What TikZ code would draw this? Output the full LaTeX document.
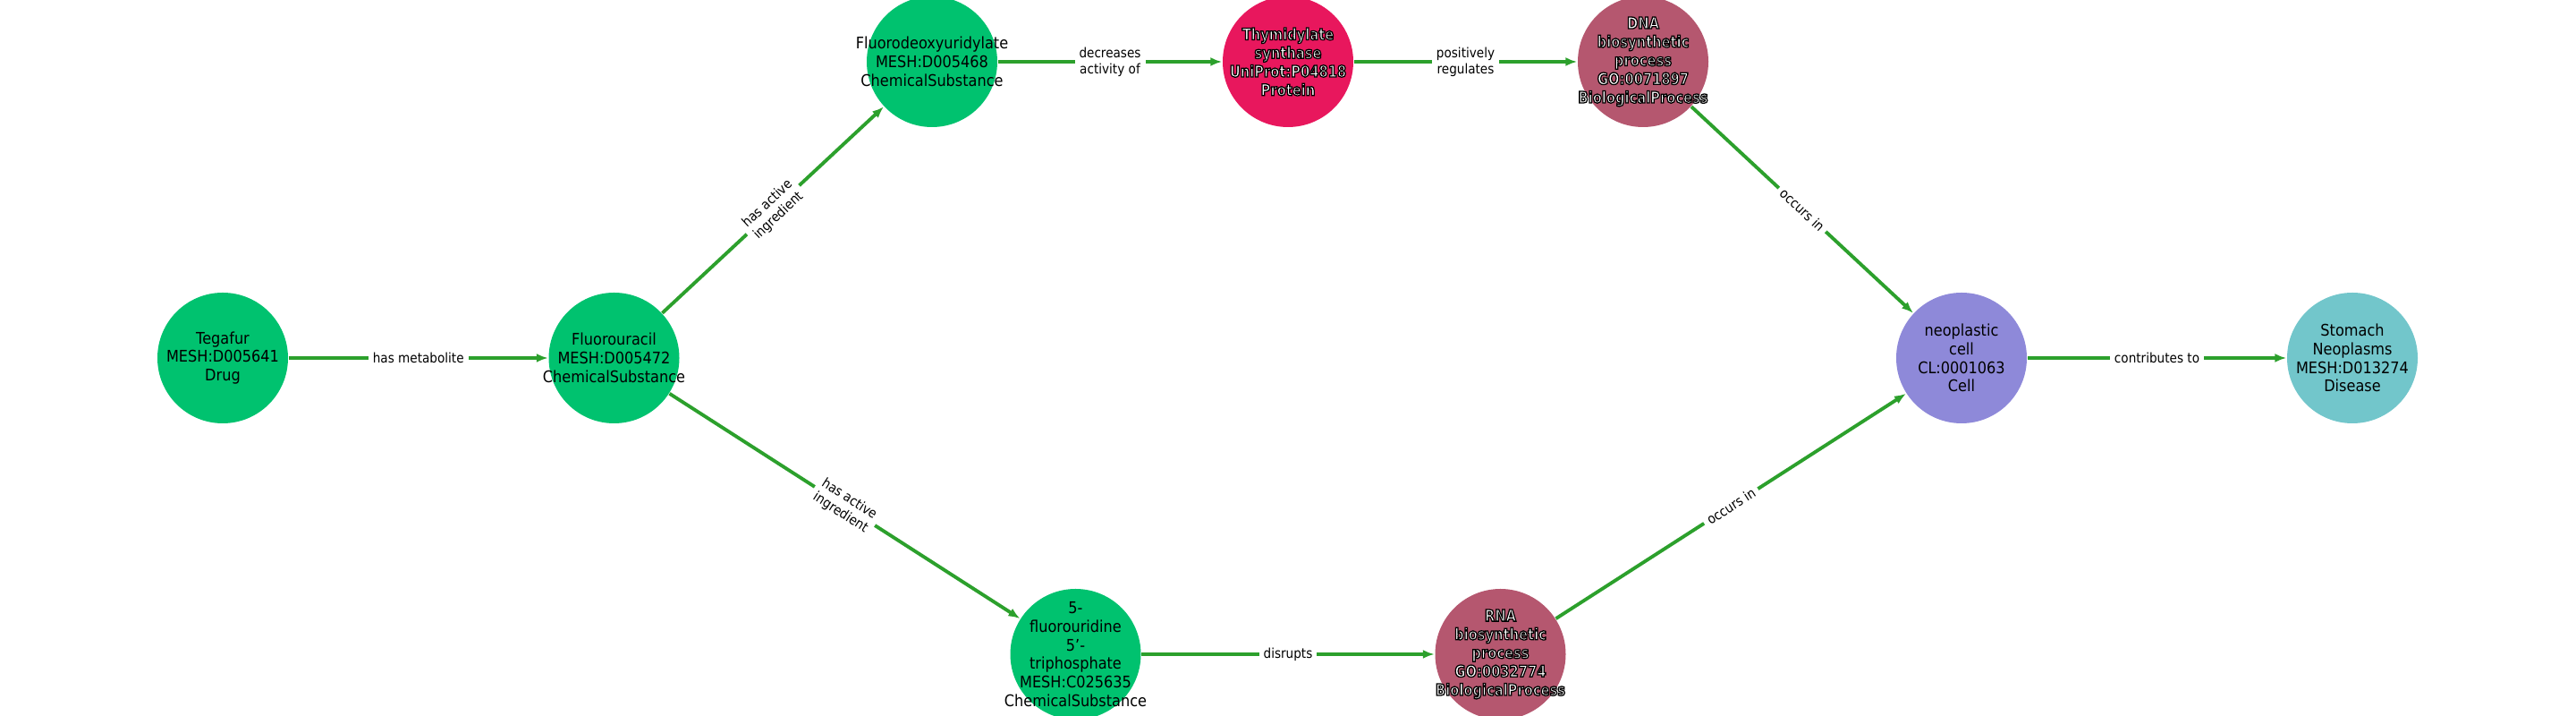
\documentclass[tikz,border=0pt]{standalone}
\usepackage{fontspec}
\setmainfont{DejaVu Sans}[FakeStretch=0.9]
\newfontfamily\outfont{DejaVu Sans}[FakeStretch=0.82]
\usepackage{tikz}
\usetikzlibrary{arrows.meta}
\definecolor{chem}{HTML}{00C26F}
\definecolor{prot}{HTML}{E8175D}
\definecolor{bproc}{HTML}{B5576F}
\definecolor{cellc}{HTML}{8E89D9}
\definecolor{disease}{HTML}{72C6CB}
\definecolor{relgreen}{HTML}{2CA02C}
\newcommand\outlined[1]{\special{pdf:literal direct q 0 0 0 RG 0.36 w 2 Tr}#1\special{pdf:literal direct Q}}
\tikzstyle{Ent}=[circle, minimum size=1.46cm, inner sep=0pt]
\tikzstyle{Txt}=[align=center, inner sep=0pt, font=\fontsize{5.1}{5.9}\selectfont]
\tikzstyle{WTxt}=[Txt, text=white, font=\outfont\bfseries\fontsize{5.1}{5.9}\selectfont]
\tikzstyle{Rel}=[draw=relgreen, line width=1.1pt, -{Latex[length=1.3mm,width=1mm]}]
\tikzstyle{RelLab}=[midway, sloped, fill=white, inner sep=0.5mm, align=center, font=\fontsize{4.3}{5.1}\selectfont]

\begin{document}
\begin{tikzpicture}
\useasboundingbox (0,0) rectangle (28.8,8);

\node[Ent, fill=chem, label={[Txt]center:Tegafur\\MESH:D005641\\Drug}] (tega) at (2.49,4) {};
\node[Ent, fill=chem, label={[Txt]center:Fluorouracil\\MESH:D005472\\ChemicalSubstance}] (fluo) at (6.865,4) {};
\node[Ent, fill=chem, label={[Txt]center:Fluorodeoxyuridylate\\MESH:D005468\\ChemicalSubstance}] (fdump) at (10.42,7.31) {};
\node[Ent, fill=prot, label={[WTxt]center:\outlined{Thymidylate\\synthase\\UniProt:P04818\\Protein}}] (tyms) at (14.40,7.31) {};
\node[Ent, fill=bproc, label={[WTxt]center:\outlined{DNA\\biosynthetic\\process\\GO:0071897\\BiologicalProcess}}] (dnabio) at (18.37,7.31) {};
\node[Ent, fill=chem, label={[Txt]center:5-\\fluorouridine\\5\symbol{39}-\\triphosphate\\MESH:C025635\\ChemicalSubstance}] (futp) at (12.025,0.69) {};
\node[Ent, fill=bproc, label={[WTxt]center:\outlined{RNA\\biosynthetic\\process\\GO:0032774\\BiologicalProcess}}] (rnabio) at (16.775,0.69) {};
\node[Ent, fill=cellc, label={[Txt]center:neoplastic\\cell\\CL:0001063\\Cell}] (neo) at (21.93,4) {};
\node[Ent, fill=disease, label={[Txt]center:Stomach\\Neoplasms\\MESH:D013274\\Disease}] (stomach) at (26.30,4) {};

\draw[Rel] (tega) -- node[RelLab] {has metabolite} (fluo);
\draw[Rel] (fluo) -- node[RelLab] {has active\\ingredient} (fdump);
\draw[Rel] (fluo) -- node[RelLab] {has active\\ingredient} (futp);
\draw[Rel] (fdump) -- node[RelLab] {decreases\\activity of} (tyms);
\draw[Rel] (tyms) -- node[RelLab] {positively\\regulates} (dnabio);
\draw[Rel] (futp) -- node[RelLab] {disrupts} (rnabio);
\draw[Rel] (dnabio) -- node[RelLab] {occurs in} (neo);
\draw[Rel] (rnabio) -- node[RelLab] {occurs in} (neo);
\draw[Rel] (neo) -- node[RelLab] {contributes to} (stomach);

\end{tikzpicture}
\end{document}
